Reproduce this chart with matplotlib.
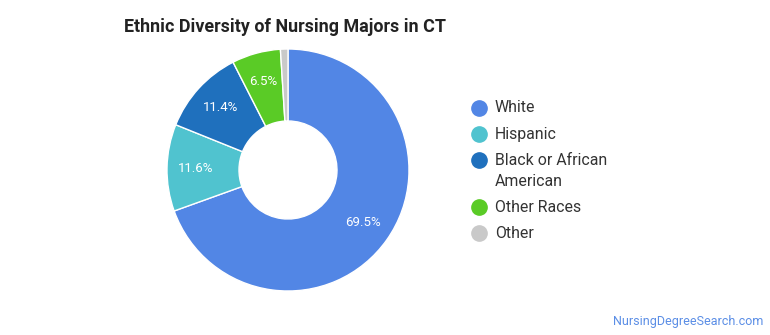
import matplotlib.pyplot as plt
from matplotlib.lines import Line2D

plt.rcParams['font.family'] = ['Roboto', 'DejaVu Sans']

# data
groups = ['White', 'Hispanic', 'Black or African\nAmerican', 'Other Races', 'Other']
shares = [69.5, 11.6, 11.4, 6.5, 1.0]
colors = ['#5286e5', '#50c3cf', '#1f70bd', '#5acb26', '#c9c9c9']

W, H = 770, 335
fig = plt.figure(figsize=(W / 100, H / 100), dpi=100)

# donut axes, centre (288, 170) px, radius 121 px
cx, cy, r = 288, 170, 121
ax = fig.add_axes([(cx - r) / W, (H - cy - r) / H, 2 * r / W, 2 * r / H])

def fmt(p):
    return f'{p:.1f}%' if p >= 3 else ''

wedges, _, autotexts = ax.pie(shares, colors=colors, startangle=90, counterclock=False,
                              radius=1, autopct=fmt, pctdistance=0.76,
                              wedgeprops=dict(width=0.595, edgecolor='white', linewidth=1),
                              textprops=dict(color='white', fontsize=9.5))
ax.set_xlim(-1, 1)
ax.set_ylim(-1, 1)
ax.set_aspect('equal')
ax.axis('off')

fig.text(124 / W, 1 - 27 / H, 'Ethnic Diversity of Nursing Majors in CT',
         fontsize=12.9, fontweight='bold', color='#222222', va='center', ha='left')

# legend drawn by hand
y = 108
for g, c in zip(groups, colors):
    fig.add_artist(Line2D([479 / W], [1 - y / H], marker='o', markersize=11,
                          color=c, linestyle='none', transform=fig.transFigure))
    for i, line in enumerate(g.split('\n')):
        fig.text(495 / W, 1 - (y + 21 * i) / H, line, fontsize=11.4, color='#333333',
                 va='center', ha='left')
    y += 26 + 21 * g.count('\n')

fig.text(763 / W, 1 - 321 / H, 'NursingDegreeSearch.com', fontsize=9, color='#5b8ee6',
         ha='right', va='center')

fig.savefig('out.png', dpi=100)
